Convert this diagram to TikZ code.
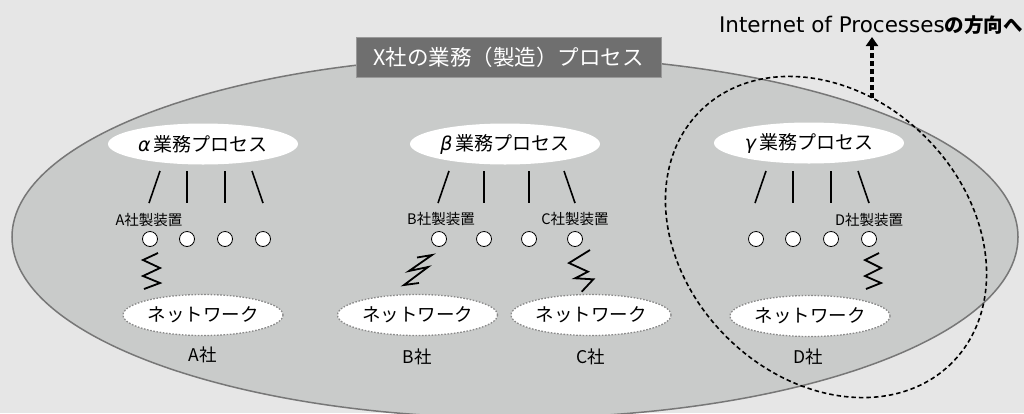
\documentclass[tikz,border=0pt]{standalone}
\usepackage{fontspec}
\setmainfont{Noto Sans CJK JP}
\newfontfamily\latn{DejaVu Sans}
\usetikzlibrary{shapes.geometric,arrows.meta,calc}
\definecolor{bg}{HTML}{E6E6E6}
\definecolor{bigfill}{HTML}{C9CBCA}
\definecolor{bigline}{HTML}{777777}
\definecolor{titlefill}{HTML}{6F6F6F}
\definecolor{netline}{HTML}{8A8A8A}
\tikzset{
  proc/.style={ellipse, fill=white, minimum width=190pt, minimum height=41pt, inner sep=0pt, font=\fontsize{19}{21}\selectfont},
  net/.style={ellipse, fill=white, draw=netline, line width=1.3pt, dash pattern=on 1.6pt off 1.6pt, minimum width=160pt, minimum height=41pt, inner sep=0pt, font=\fontsize{18.5}{20}\selectfont},
  dev/.style={circle, draw=black, fill=white, line width=0.8pt, minimum size=15pt, inner sep=0pt},
  devlbl/.style={font=\fontsize{14.5}{16}\selectfont, inner sep=0pt},
  comp/.style={font=\fontsize{17.5}{19}\selectfont, inner sep=0pt},
  tick/.style={line width=1.6pt},
  zig/.style={line width=1.8pt, line join=miter},
}
\begin{document}
\begin{tikzpicture}[x=1pt,y=-1pt]
\fill[bg] (0,0) rectangle (1024,413);
\useasboundingbox (0,0) rectangle (1024,413);
\begin{scope}
\clip (0,0) rectangle (1024,413);
\draw[bigline, fill=bigfill, line width=1.5pt] (515,237) ellipse [x radius=503, y radius=181];
\end{scope}

\node[fill=titlefill, draw=gray!80, line width=0.8pt, minimum width=305pt, minimum height=40pt, inner sep=0pt, text=white, font=\fontsize{21.5}{23}\selectfont] (title) at (508.5,57) {X社の業務（製造）プロセス};

% process ellipses
\node[proc] (pa) at (203,144) {{\latn\itshape α}\,業務プロセス};
\node[proc] (pb) at (505,144) {{\latn\itshape β}\,業務プロセス};
\node[proc] (pc) at (809,143) {{\latn\itshape γ}\,業務プロセス};

% devices
\foreach \n/\x in {a1/150,a2/187,a3/225,a4/263,b1/439,b2/484,b3/529,b4/575,c1/756,c2/793,c3/831,c4/869}
  \node[dev] (\n) at (\x,239) {};

% ticks
\foreach \g in {a,b,c}{
  \draw[tick] ($(\g1)+(10,-68)$) coordinate (\g t1) -- ($(\g1)+(-1,-36)$);
  \draw[tick] ($(\g2)+(0,-68)$) coordinate (\g t2) -- ($(\g2)+(0,-36)$);
  \draw[tick] ($(\g3)+(0,-68)$) coordinate (\g t3) -- ($(\g3)+(0,-36)$);
  \draw[tick] ($(\g4)+(-11,-68)$) coordinate (\g t4) -- ($(\g4)+(0,-36)$);
}

% device labels
\node[devlbl] (la) at (149,220) {A社製装置};
\node[devlbl] (lb) at (441,219) {B社製装置};
\node[devlbl] (lc) at (575,219) {C社製装置};
\node[devlbl] (ld) at (869,220) {D社製装置};

% networks
\node[net] (na) at (203,315) {ネットワーク};
\node[net] (nb) at (417.5,315) {ネットワーク};
\node[net] (nc) at (591,315) {ネットワーク};
\node[net] (nd) at (810,316) {ネットワーク};

% zigzags
\draw[zig] (158,253) -- (143,260) -- (160,268) -- (143,276) -- (160,283) -- (144,289);
\draw[zig] (417,257.5) -- (432,255) -- (409,271) -- (428,267) -- (404,285) -- (419,283);
\draw[zig] (590,250) -- (569,263) -- (588,271.7) -- (575,278.3) -- (593.3,279.3) -- (581.7,291.7);
\draw[zig] (879,253) -- (865,260) -- (881,268) -- (865,276) -- (881,283) -- (866,289);

% company labels
\node[comp] (ca) at (203,355) {A社};
\node[comp] (cb) at (417,357) {B社};
\node[comp] (cc) at (591,357) {C社};
\node[comp] (cd) at (808,357) {D社};

% dashed rotated ellipse
\coordinate (dc) at (826,237);
\draw[line width=1.6pt, dash pattern=on 4.5pt off 3pt, rotate around={-45:(dc)}] (dc) ellipse [x radius=178, y radius=141];

% internet of processes
\node[font=\fontsize{19.5}{22}\selectfont, inner sep=0pt, anchor=east] (iop) at (1023,25) {{\latn\fontsize{21.5}{22}\selectfont Internet of Processes}{\bfseries の方向へ}};
\coordinate (arrbot) at (872,98);
\draw[line width=3.5pt, dash pattern=on 5pt off 3pt, -{Triangle[width=12pt,length=9pt]}] (arrbot) -- (arrbot |- 0,37);
\end{tikzpicture}
\end{document}
